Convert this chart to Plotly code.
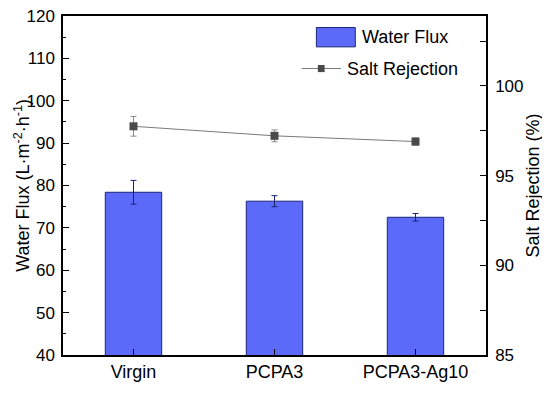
import plotly.graph_objects as go

categories = ["Virgin", "PCPA3", "PCPA3-Ag10"]
water_flux = [78.4, 76.3, 72.5]
water_flux_err = [2.8, 1.3, 0.9]
salt_rejection = [97.75, 97.22, 96.90]
salt_rejection_err = [0.55, 0.33, 0.2]

FONT = "Liberation Sans, Arial, sans-serif"
bar_color = "#5b6af9"
bar_edge = "#1c2478"

fig = go.Figure()
fig.add_trace(go.Bar(
    x=list(range(len(categories))), y=water_flux, width=0.4,
    marker=dict(color=bar_color, line=dict(color=bar_edge, width=1)),
    error_y=dict(type="data", array=water_flux_err, color=bar_edge, thickness=1, width=3),
    name="Water Flux", showlegend=False,
))
fig.add_trace(go.Scatter(
    x=list(range(len(categories))), y=salt_rejection, yaxis="y2",
    mode="lines+markers",
    line=dict(color="#7a7a7a", width=1),
    marker=dict(symbol="square", size=8, color="#4a4a4a"),
    error_y=dict(type="data", array=salt_rejection_err, color="#8a8a8a", thickness=1, width=3),
    name="Salt Rejection", showlegend=False,
))

# custom legend
fig.add_shape(type="rect", xref="paper", yref="paper", x0=0.599, x1=0.691, y0=0.909, y1=0.966,
              fillcolor=bar_color, line=dict(color=bar_edge, width=1))
fig.add_annotation(xref="paper", yref="paper", x=0.703, y=0.938, text="Water Flux", showarrow=False,
                   xanchor="left", yanchor="middle", font=dict(family=FONT, size=18, color="black"))
fig.add_shape(type="line", xref="paper", yref="paper", x0=0.564, x1=0.657, y0=0.845, y1=0.845,
              line=dict(color="#7a7a7a", width=1))
fig.add_shape(type="rect", xref="paper", yref="paper", x0=0.6025, x1=0.6185, y0=0.8345, y1=0.8555,
              fillcolor="#4a4a4a", line=dict(width=0))
fig.add_annotation(xref="paper", yref="paper", x=0.667, y=0.845, text="Salt Rejection", showarrow=False,
                   xanchor="left", yanchor="middle", font=dict(family=FONT, size=18, color="black"))

# axis titles
fig.add_annotation(xref="paper", yref="paper", x=-0.128, y=0.5,
                   text="Water Flux (L·m<sup>-2</sup>·h<sup>-1</sup>)", showarrow=False,
                   textangle=-90, xanchor="left", yanchor="middle",
                   font=dict(family=FONT, size=18, color="black"))
fig.add_annotation(xref="paper", yref="paper", x=1.111, y=0.5, text="Salt Rejection (%)", showarrow=False,
                   textangle=-90, xanchor="center", yanchor="middle",
                   font=dict(family=FONT, size=18, color="black"))

fig.update_layout(
    width=542, height=385,
    margin=dict(l=55, r=64, t=8, b=38, autoexpand=False),
    paper_bgcolor="white", plot_bgcolor="white",
    font=dict(family=FONT, size=17, color="black"),
    xaxis=dict(
        range=[-0.5, 2.5], tickvals=list(range(len(categories))), ticktext=categories,
        ticks="inside", ticklen=6, tickcolor="black", showline=True, linecolor="black", linewidth=1.5,
        mirror=True, showgrid=False, zeroline=False, tickfont=dict(size=18), automargin=False,
    ),
    yaxis=dict(
        range=[40, 120], dtick=10, ticks="inside", ticklen=6, tickcolor="black",
        minor=dict(dtick=5, ticks="inside", ticklen=3, tickcolor="black"),
        showline=True, linecolor="black", linewidth=1.5, showgrid=False, zeroline=False,
        automargin=False, ticklabelstandoff=3, ticklabeloverflow="allow", tickfont=dict(size=17),
    ),
    yaxis2=dict(
        range=[85, 103.9], overlaying="y", side="right", tickvals=[85, 90, 95, 100],
        ticks="inside", ticklen=6, tickcolor="black",
        minor=dict(tickvals=[87.5, 92.5, 97.5, 102.5], ticks="inside", ticklen=6, tickcolor="black"),
        showline=True, linecolor="black", linewidth=1.5, showgrid=False, zeroline=False,
        automargin=False, ticklabelstandoff=4, ticklabeloverflow="allow", tickfont=dict(size=17),
    ),
)

fig.write_html("out.html")
